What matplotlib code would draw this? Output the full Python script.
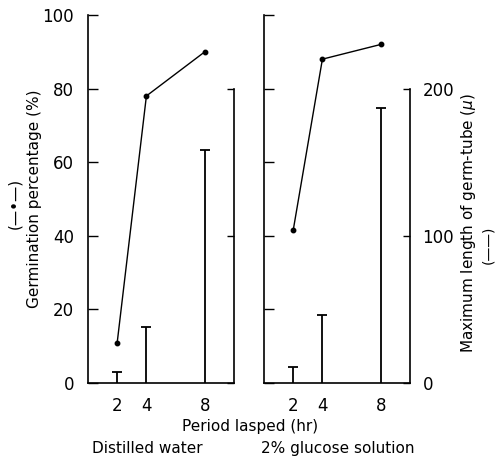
import matplotlib.pyplot as plt

plt.rcParams['font.family'] = "DejaVu Sans"

# period lapsed (hr)
hours = [2, 4, 8]

# germination percentage (%)
germ_water = [11, 78, 90]
germ_glucose = [41.5, 88, 92]

# maximum length of germ-tube (micron)
tube_water = [7.5, 38, 158]
tube_glucose = [11, 46, 187]

panels = [
    ("water", germ_water, tube_water),
    ("glucose", germ_glucose, tube_glucose),
]
lefts = [0.176, 0.528]

fig = plt.figure(figsize=(5, 4.63), dpi=100)

for i, (name, germ, tube) in enumerate(panels):
    ax = fig.add_axes([lefts[i], 0.1728, 0.292, 0.7948])
    ax.set_xlim(0, 10)
    ax.set_ylim(0, 100)
    for s in ["top", "right"]:
        ax.spines[s].set_visible(False)
    ax.spines["left"].set_linewidth(1.2)
    ax.spines["bottom"].set_linewidth(1.2)

    ax.plot(hours, germ, color="k", lw=1, marker="o", ms=3.2)

    ax.set_yticks([0, 20, 40, 60, 80, 100])
    ax.set_xticks(hours)
    ax.tick_params(axis="y", direction="in", length=7, width=1, labelsize=12, pad=10)
    ax.tick_params(axis="x", length=0, labelsize=12, pad=10)
    if i == 1:
        ax.tick_params(axis="y", labelleft=False)

    # germ-tube length on the twin axis, 200 micron level = 80 %
    ax2 = ax.twinx()
    ax2.set_ylim(0, 250)
    for s in ["top", "left", "bottom"]:
        ax2.spines[s].set_visible(False)
    ax2.spines["right"].set_bounds(0, 200)
    ax2.spines["right"].set_linewidth(1.2)
    ax2.vlines(hours, 0, tube, color="k", lw=1.3)
    ax2.plot(hours, tube, ls="", marker="_", ms=7, mew=1.3, color="k")
    ax2.set_yticks([0, 100, 200])
    ax2.tick_params(axis="y", direction="in", length=5, width=1, labelsize=12, pad=9)
    if i == 0:
        ax2.tick_params(axis="y", labelright=False)

fig.text(0.07, 0.570, "Germination percentage (%)", rotation=90,
         ha="center", va="center", fontsize=11)
fig.text(0.03, 0.5615, "(—•—)", rotation=90, ha="center", va="center", fontsize=11)
fig.text(0.936, 0.518, r"Maximum length of germ-tube ($\mu$)", rotation=90,
         ha="center", va="center", fontsize=11)
fig.text(0.976, 0.471, "(——)", rotation=90, ha="center", va="center", fontsize=10)
fig.text(0.5, 0.078, "Period lasped (hr)", ha="center", va="center", fontsize=11)
fig.text(0.294, 0.032, "Distilled water", ha="center", va="center", fontsize=11)
fig.text(0.676, 0.032, "2% glucose solution", ha="center", va="center", fontsize=11)

fig.savefig("out.png", dpi=100)
